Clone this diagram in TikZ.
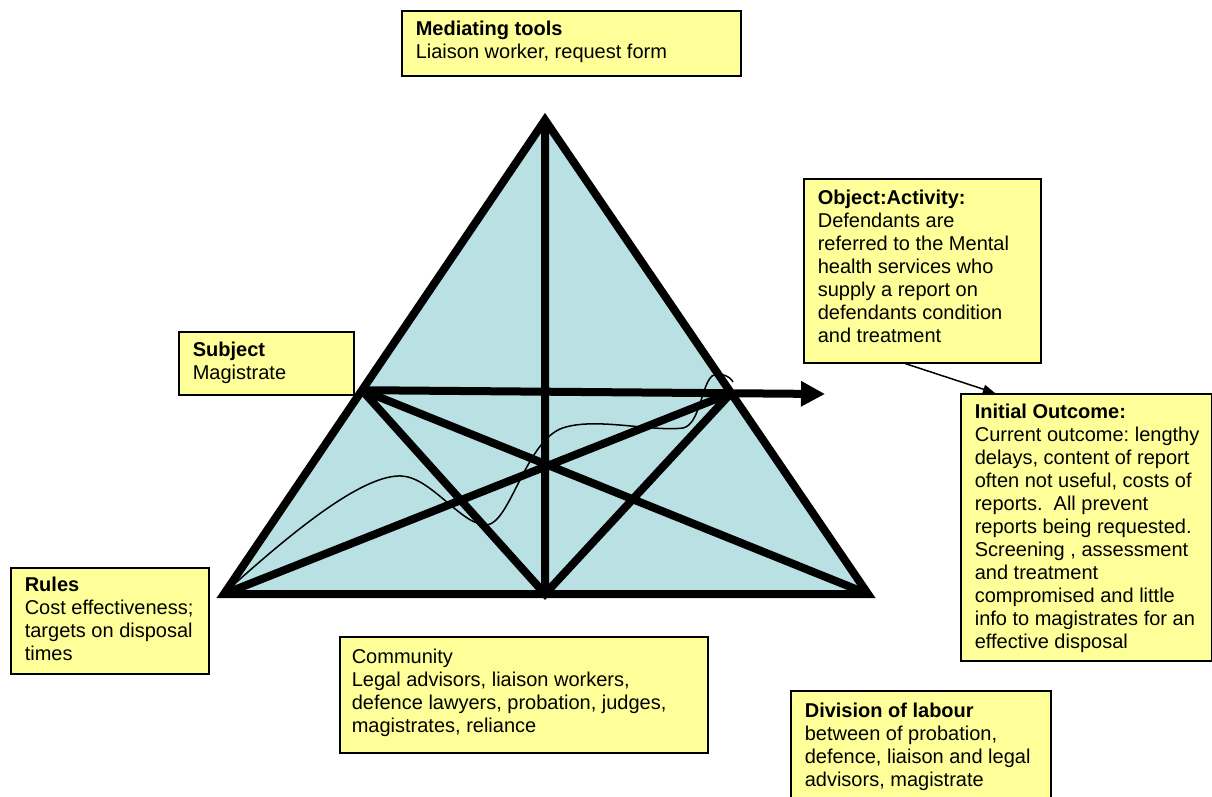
\documentclass[tikz,border=0pt]{standalone}
\usepackage{fontspec}
\setmainfont{Liberation Sans}
\usetikzlibrary{arrows.meta,calc}
\definecolor{cardyellow}{HTML}{FFFF99}
\definecolor{triblue}{HTML}{B9E0E3}
\frenchspacing
% text of a card: [top gap]{width}{height}{lines}
\newcommand{\cardtext}[4][10.5pt]{\begin{minipage}[t][#3][t]{#2}\leftskip=14pt\vspace*{#1}#4\end{minipage}}
\tikzset{
  card/.style={draw,line width=1.6pt,fill=cardyellow,anchor=north west,inner sep=0pt,font=\fontsize{20}{23}\selectfont},
  heavy/.style={line width=8pt},
}
\begin{document}
\begin{tikzpicture}[x=1pt,y=-1pt]
	\useasboundingbox (0,0) rectangle (1212,796);
	% the activity triangle
	\coordinate (apex) at (545,120);
	\coordinate (bl) at (224,594);
	\coordinate (br) at (868,594);
	\coordinate (mid) at (545,594);
	\coordinate (left) at ($(bl)!0.43!(apex)$);
	\coordinate (right) at ($(br)!0.424!(apex)$);
	\coordinate (tip) at (825,394);
	\filldraw[heavy,fill=triblue,line join=miter] (apex) -- (br) -- (bl) -- cycle;
	\draw[heavy] (apex) -- (mid) (left) -- (mid) -- (right) (left) -- (br) (bl) -- (right);
	\draw[heavy,-{Triangle[length=24pt,width=24pt]}] (left) -- (tip);
	\draw[line width=1.5pt] (230,588) .. controls (300,525) and (365,474) .. (402,476)
		.. controls (432,478) and (462,526) .. (487,525)
		.. controls (510,522) and (525,445) .. (560,429)
		.. controls (592,416) and (650,432) .. (683,428)
		.. controls (700,424) and (701,386) .. (712,376)
		.. controls (720,372) and (730,376) .. (733,382);
	% cards
	\node[card] (tools) at (401,10) {\cardtext{339pt}{65pt}{\textbf{Mediating tools}\\Liaison worker, request form}};
	\node[card] (obj) at (803,178) {\cardtext[11.5pt]{237pt}{184pt}{\textbf{Object:Activity:}\\Defendants are\\referred to the Mental\\health services who\\supply a report on\\defendants condition\\and treatment}};
	\node[card] (subj) at (178,331) {\cardtext{175pt}{63pt}{\textbf{Subject}\\Magistrate}};
	\node[card] (outcome) at (960,393) {\cardtext{251pt}{267pt}{\textbf{Initial Outcome:}\\Current outcome: lengthy\\delays, content of report\\often not useful, costs of\\reports.\ \ All prevent\\reports being requested.\\Screening , assessment\\and treatment\\compromised and little\\info to magistrates for an\\effective disposal}};
	\node[card] (rules) at (10,567) {\cardtext[9.5pt]{198pt}{106pt}{\textbf{Rules}\\Cost effectiveness;\\targets on disposal\\times}};
	\node[card] (comm) at (339,636) {\cardtext[12.5pt]{368pt}{116pt}{\hspace*{-2pt}Community\\\hspace*{-2pt}Legal advisors, liaison workers,\\\hspace*{-2pt}defence lawyers, probation, judges,\\\hspace*{-2pt}magistrates, reliance}};
	\node[card] (labour) at (790,690) {\cardtext[12.5pt]{260pt}{120pt}{\textbf{Division of labour}\\between of probation,\\defence, liaison and legal\\advisors, magistrate}};
	\draw[line width=1.5pt,-{Triangle[length=12pt,width=9pt]}] ([xshift=-17pt]obj.south) -- ([xshift=35pt]outcome.north west);
\end{tikzpicture}
\end{document}
